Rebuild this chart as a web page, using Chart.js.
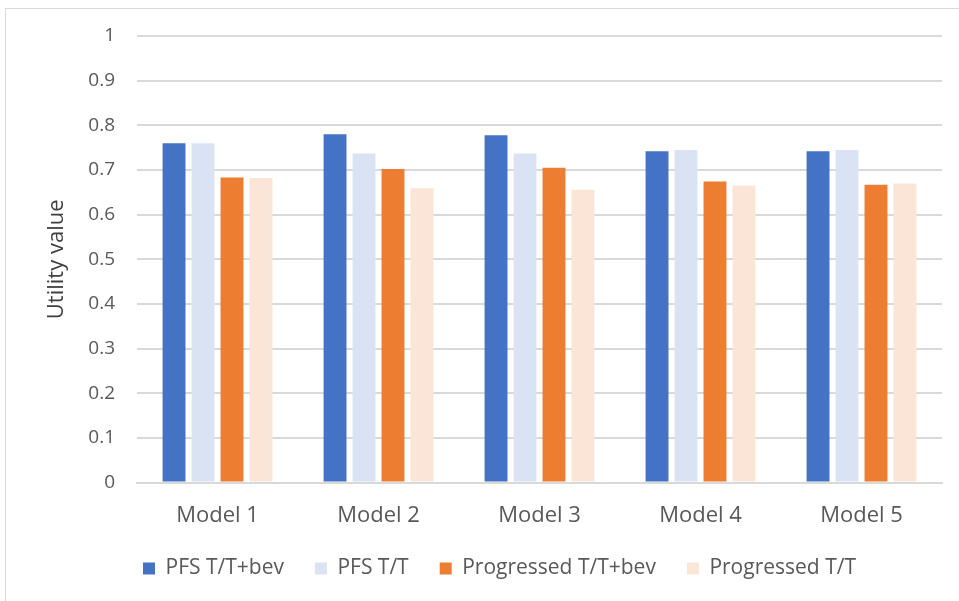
<!DOCTYPE html>
<html>
<head>
<meta charset="utf-8">
<script src="https://cdn.jsdelivr.net/npm/chart.js@4"></script>
<style>
  html, body { margin: 0; padding: 0; background: #ffffff; }
  #wrap { position: relative; width: 959px; height: 601px; overflow: hidden; }
  #frame { position: absolute; left: 5px; top: 8px; width: 1000px; height: 700px; border: 1px solid #d9d9d9; box-sizing: border-box; }
  #chart { position: absolute; left: 0; top: 0; }
</style>
</head>
<body>
<div id="wrap">
  <div id="frame"></div>
  <canvas id="chart" width="959" height="601"></canvas>
</div>
<script>
// Kategorie a hodnoty jednotlivých řad
var models = ['Model 1', 'Model 2', 'Model 3', 'Model 4', 'Model 5'];
var pfsBev = [0.760, 0.780, 0.778, 0.742, 0.742];
var pfsTT = [0.760, 0.737, 0.737, 0.745, 0.745];
var progBev = [0.683, 0.702, 0.705, 0.674, 0.667];
var progTT = [0.682, 0.659, 0.656, 0.665, 0.670];
var yTickLabels = ['0', '0.1', '0.2', '0.3', '0.4', '0.5', '0.6', '0.7', '0.8', '0.9', '1'];

var font = '"Open Sans", "Segoe UI", sans-serif';

var chartData = {
    labels: models,
    datasets: [
        { label: 'PFS T/T+bev', data: pfsBev, backgroundColor: '#4472C4' },
        { label: 'PFS T/T', data: pfsTT, backgroundColor: '#DAE3F3' },
        { label: 'Progressed T/T+bev', data: progBev, backgroundColor: '#ED7D31' },
        { label: 'Progressed T/T', data: progTT, backgroundColor: '#FBE5D6' }
    ]
};

// Posun legendy: začíná pod osou Y a sedí blíž k popiskům osy X
var legendShift = {
    id: 'legendShift',
    afterLayout: function (chart) {
        var lg = chart.legend;
        if (lg) {
            var w = lg.right - lg.left;
            lg.left = 112;
            lg.right = lg.left + w;
            lg.top -= 22;
            lg.bottom -= 22;
        }
    }
};

var ctx = document.getElementById('chart');

if (ctx) {
    var myChart = new Chart(ctx, {
        type: 'bar',
        data: chartData,
        plugins: [legendShift],
        options: {
            responsive: false,
            animation: false,
            datasets: {
                bar: {
                    categoryPercentage: 0.72,
                    barPercentage: 0.79,
                    borderWidth: 0
                }
            },
            layout: {
                padding: { left: 5, right: 17, top: 36, bottom: -10 }
            },
            scales: {
                y: {
                    min: 0,
                    max: 1,
                    border: { display: false },
                    grid: { color: '#d9d9d9', lineWidth: 2, drawTicks: false },
                    ticks: {
                        stepSize: 0.1,
                        padding: 22,
                        color: '#595959',
                        font: { family: font, size: 19 },
                        callback: function (value, index) {
                            return yTickLabels[index];
                        }
                    },
                    title: {
                        display: true,
                        text: 'Utility value',
                        color: '#404040',
                        font: { family: font, size: 22 },
                        padding: { top: 39, bottom: 0 }
                    },
                    afterFit: function (scale) {
                        scale.width = 132; // osa končí na x = 137
                    }
                },
                x: {
                    border: { color: '#d9d9d9', width: 2 },
                    grid: { display: false, drawTicks: false },
                    ticks: {
                        padding: 20,
                        color: '#595959',
                        font: { family: font, size: 22 }
                    }
                }
            },
            plugins: {
                legend: {
                    position: 'bottom',
                    align: 'start',
                    labels: {
                        boxWidth: 12,
                        boxHeight: 12,
                        padding: 31,
                        color: '#595959',
                        font: { family: font, size: 21 }
                    }
                },
                tooltip: { enabled: false }
            }
        }
    });
} else {
    console.error("Canvas element with ID 'chart' not found.");
}
</script>
</body>
</html>
